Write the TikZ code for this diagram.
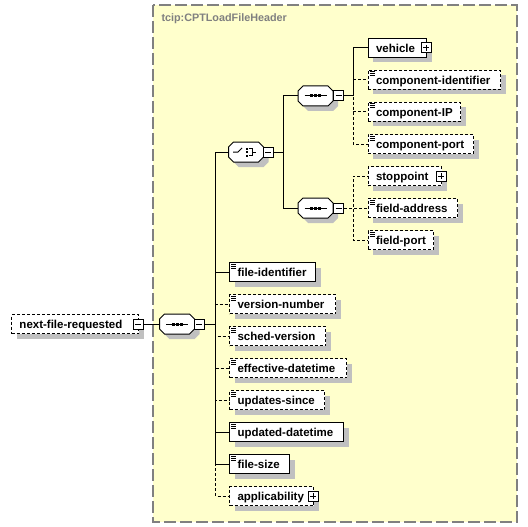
\documentclass[tikz,border=0pt]{standalone}
\usepackage{fontspec}
\setmainfont{Liberation Sans}
\usetikzlibrary{shadows}
\definecolor{bgyellow}{RGB}{255,255,204}
\definecolor{bordergray}{RGB}{128,128,128}
\definecolor{shadowgray}{RGB}{192,192,192}
\newcommand\elemfont{\fontsize{11.5pt}{13pt}\selectfont\bfseries\hyphenpenalty=10000 \exhyphenpenalty=10000 }
\newcommand\titlefont{\fontsize{10.8pt}{12pt}\selectfont\bfseries}
\newcommand\octpath[1]{([xshift=5pt]#1.north west) -- ([xshift=-5pt]#1.north east) -- ([yshift=-5pt]#1.north east) -- ([yshift=5pt]#1.south east) -- ([xshift=-5pt]#1.south east) -- ([xshift=5pt]#1.south west) -- ([yshift=5pt]#1.south west) -- ([yshift=-5pt]#1.north west) -- cycle}
\newcommand\octa[1]{\fill[shadowgray, transform canvas={shift={(5pt,-5pt)}}] \octpath{#1};
  \filldraw[fill=white] \octpath{#1};}
\newcommand\seqsym[1]{\begin{scope}[shift={(#1.center)}]
  \draw (-11,0) -- (11,0);
  \fill (-5.5,-1.5) rectangle (-2.5,1.5);
  \fill (-1.5,-1.5) rectangle (1.5,1.5);
  \fill (2.5,-1.5) rectangle (5.5,1.5);
  \end{scope}}
\newcommand\choicesym[1]{\begin{scope}[shift={(#1.center)}]
  \draw (-13,0) -- (-8,0) -- (-4,-4);
  \fill (-0.5,-4.5) rectangle (1.5,-2.5);
  \fill (-0.5,-1) rectangle (1.5,1);
  \fill (-0.5,2.5) rectangle (1.5,4.5);
  \draw (2.5,-3.5) -- (6.5,-3.5) -- (6.5,3.5) -- (2.5,3.5);
  \draw (6.5,0) -- (10,0);
  \end{scope}}
\newcommand\simpleicon[1]{%
  \draw ([xshift=2pt,yshift=-2pt]#1.north west) -- ++(5pt,0pt);
  \draw ([xshift=2pt,yshift=-4pt]#1.north west) -- ++(5pt,0pt);
  \draw ([xshift=2pt,yshift=-6pt]#1.north west) -- ++(5pt,0pt);}
\begin{document}
\begin{tikzpicture}[x=1pt,y=-1pt,line width=1pt,
  elem/.style={draw, fill=white, anchor=west, minimum height=19pt, inner xsep=8pt, inner ysep=0pt,
    align=left, font=\elemfont, text height=9.5pt, text depth=0.5pt,
    drop shadow={shadow xshift=5pt, shadow yshift=-5pt, opacity=1, fill=shadowgray}},
  opt/.style={elem, dash pattern=on 3pt off 2pt},
  w/.style={text width=#1},
  optc/.style={dash pattern=on 3pt off 2pt},
  comp/.style={draw=none, minimum width=34pt, minimum height=19pt, inner sep=0pt},
  minus/.style={draw, fill=white, minimum size=10pt, inner sep=0pt,
    path picture={\draw ([xshift=-3pt]path picture bounding box.center) -- ([xshift=3pt]path picture bounding box.center);}},
  plus/.style={draw, fill=white, minimum size=10pt, inner sep=0pt,
    path picture={\draw ([xshift=-3pt]path picture bounding box.center) -- ([xshift=3pt]path picture bounding box.center);
      \draw ([yshift=-3pt]path picture bounding box.center) -- ([yshift=3pt]path picture bounding box.center);}},
  titlestyle/.style={anchor=west, font=\titlefont, text=bordergray, inner sep=0pt},
  bgbox/.style={draw=bordergray, fill=bgyellow, line width=1.5pt, dash pattern=on 12pt off 4pt}
]
\useasboundingbox (0,0) rectangle (528,527);
\fill[white] (0,0) rectangle (528,527);
\draw[bgbox] (153,5) rectangle (517,522);
\node[titlestyle] (title) at (161,19) {tcip:CPTLoadFileHeader};

% root element
\node[opt, w=111pt] (nfr) at (11,324) {next-file-requested};
\node[minus] (nfrm) at ([xshift=-1pt]nfr.east) {};

% compositors
\node[comp] (s0) at (177,324) {};
\octa{s0}\seqsym{s0}
\node[minus] (s0m) at (199,324) {};
\node[comp] (ch) at (246,152) {};
\octa{ch}\choicesym{ch}
\node[minus] (chm) at (268,152) {};
\node[comp] (s1) at (315.5,96) {};
\octa{s1}\seqsym{s1}
\node[minus] (s1m) at (338.5,96) {};
\node[comp] (s2) at (315.5,208) {};
\octa{s2}\seqsym{s2}
\node[minus] (s2m) at (338.5,208) {};

% upper sequence children
\node[elem, w=42.5pt] (vehicle) at (367.5,48) {vehicle};
\node[plus] (vehiclep) at ([xshift=-1pt]vehicle.east) {};
\node[opt, w=116.5pt] (compid) at (367.5,80) {component-identifier};
\simpleicon{compid}
\node[opt, w=76.5pt] (compip) at (367.5,112) {component-IP};
\simpleicon{compip}
\node[opt, w=89.5pt] (compport) at (367.5,144) {component-port};
\simpleicon{compport}
% lower sequence children
\node[opt, w=57.5pt] (stop) at (367.5,176) {stoppoint};
\node[plus] (stopp) at ([xshift=-1pt]stop.east) {};
\node[opt, w=73.5pt] (faddr) at (367.5,208) {field-address};
\simpleicon{faddr}
\node[opt, w=49.5pt] (fport) at (367.5,240) {field-port};
\simpleicon{fport}
% main sequence children
\node[elem, w=70pt] (fileid) at (229,272) {file-identifier};
\simpleicon{fileid}
\node[opt, w=90pt] (vernum) at (229,304) {version-number};
\simpleicon{vernum}
\node[opt, w=80pt] (sched) at (229,336) {sched-version};
\simpleicon{sched}
\node[opt, w=101pt] (effdt) at (229,368) {effective-datetime};
\simpleicon{effdt}
\node[opt, w=79pt] (updsince) at (229,400) {updates-since};
\simpleicon{updsince}
\node[elem, w=98pt] (upddt) at (229,432) {updated-datetime};
\simpleicon{upddt}
\node[elem, w=44pt] (fsize) at (229,464) {file-size};
\simpleicon{fsize}
\node[opt, w=68pt] (appl) at (229,496) {applicability};
\node[plus] (applp) at ([xshift=-1pt]appl.east) {};

% connectors
\draw (nfrm.east) -- (s0.west);
\draw (s0m.east) -- ++(11,0) |- (ch.west);
\draw (s0m.east) -- ++(11,0) |- (fileid.west);
\draw[optc] (s0m.east) -- ++(11,0) |- (vernum.west);
\draw[optc] (s0m.east) -- ++(11,0) |- (sched.west);
\draw[optc] (s0m.east) -- ++(11,0) |- (effdt.west);
\draw[optc] (s0m.east) -- ++(11,0) |- (updsince.west);
\draw (s0m.east) -- ++(11,0) |- (upddt.west);
\draw (s0m.east) -- ++(11,0) |- (fsize.west);
\draw[optc] (s0m.east) -- ++(11,0) |- (appl.west);

\draw (chm.east) -- ++(10,0) |- (s1.west);
\draw (chm.east) -- ++(10,0) |- (s2.west);

\draw (s1m.east) -- ++(9,0) |- (vehicle.west);
\draw[optc] (s1m.east) -- ++(9,0) |- (compid.west);
\draw[optc] (s1m.east) -- ++(9,0) |- (compip.west);
\draw[optc] (s1m.east) -- ++(9,0) |- (compport.west);

\draw[optc] (s2m.east) -- ++(9,0) |- (stop.west);
\draw[optc] (s2m.east) -- ++(9,0) |- (faddr.west);
\draw[optc] (s2m.east) -- ++(9,0) |- (fport.west);
\end{tikzpicture}
\end{document}
